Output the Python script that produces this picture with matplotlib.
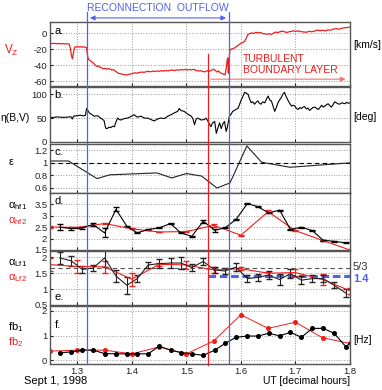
import matplotlib.pyplot as plt
from matplotlib.lines import Line2D
from matplotlib.patches import FancyArrowPatch
from matplotlib.transforms import blended_transform_factory

plt.rcParams['font.family'] = ['Liberation Sans', 'DejaVu Sans']

RED = '#f21c1c'
BLUE = '#4f62ee'

# panel a: Vz [km/s]  (time, value)
vz = [(1.250, -12.5), (1.254, -13.0), (1.258, -12.6), (1.262, -13.1), (1.266, -12.9), (1.270, -13.3),
      (1.274, -13.0), (1.278, -13.4), (1.282, -13.1), (1.285, -13.6), (1.287, -18), (1.289, -27),
      (1.291, -32), (1.293, -24), (1.295, -17.5), (1.298, -16.8), (1.302, -17.2), (1.306, -16.9),
      (1.310, -17.4), (1.314, -17.1), (1.317, -18.0), (1.319, -29), (1.321, -33), (1.324, -34.5),
      (1.327, -36), (1.330, -37.5), (1.333, -40), (1.336, -41.5), (1.339, -41), (1.342, -42.5),
      (1.345, -43.5), (1.348, -44.5), (1.351, -44), (1.354, -45), (1.357, -44.2), (1.360, -44.8),
      (1.363, -46), (1.366, -45.5), (1.369, -47), (1.372, -48.5), (1.375, -50), (1.378, -50.5),
      (1.382, -51.2), (1.386, -51.8), (1.390, -52.2), (1.394, -51.5), (1.398, -50.8), (1.402, -50.2),
      (1.406, -49.6), (1.410, -49.9), (1.414, -49.0), (1.418, -48.6), (1.422, -48.9), (1.426, -48.2),
      (1.430, -47.6), (1.434, -48.3), (1.438, -47.4), (1.442, -47.9), (1.446, -47.2), (1.450, -47.6),
      (1.454, -46.9), (1.458, -47.4), (1.462, -46.6), (1.466, -47.1), (1.470, -46.4), (1.474, -46.0),
      (1.478, -46.7), (1.482, -45.8), (1.486, -46.3), (1.490, -45.4), (1.494, -45.9), (1.498, -45.2),
      (1.502, -46.0), (1.506, -45.3), (1.510, -45.8), (1.514, -45.2), (1.518, -46.5), (1.522, -47.2),
      (1.526, -46.8), (1.530, -47.9), (1.534, -48.3), (1.538, -46.9), (1.542, -47.8), (1.546, -46.2),
      (1.550, -45.0), (1.553, -46.5), (1.556, -48.5), (1.559, -47.2), (1.562, -49.5), (1.565, -50.3),
      (1.568, -51.2), (1.571, -52.0), (1.573, -44), (1.575, -33), (1.576, -31), (1.577, -50),
      (1.578, -35), (1.580, -20.5), (1.583, -19.8), (1.586, -19.0), (1.589, -18.2), (1.592, -16.5),
      (1.595, -15.2), (1.598, -13.8), (1.601, -12.0), (1.604, -11.5), (1.607, -10.0), (1.610, -6),
      (1.613, -1.5), (1.616, -0.5), (1.620, 0.5), (1.624, -0.3), (1.628, 1.2), (1.632, 0.4),
      (1.636, 1.0), (1.640, -0.5), (1.644, -0.8), (1.648, -1.2), (1.652, -0.6), (1.656, -1.5),
      (1.660, 0.3), (1.664, 1.5), (1.668, 0.8), (1.672, 2.0), (1.676, 2.6), (1.680, 1.8),
      (1.684, 1.0), (1.688, 1.7), (1.692, 2.4), (1.696, 3.0), (1.700, 2.2), (1.705, 2.9),
      (1.710, 2.0), (1.715, 1.6), (1.720, 1.2), (1.725, 2.4), (1.730, 1.8), (1.735, 2.6),
      (1.740, 4.0), (1.745, 3.2), (1.750, 3.6), (1.755, 3.0), (1.760, 4.2), (1.765, 3.8),
      (1.770, 5.3), (1.775, 5.8), (1.780, 5.0), (1.785, 6.3), (1.790, 6.8), (1.795, 7.2), (1.800, 7.6)]

# panel b: eta(B,V) [deg]
eta = [(1.250, 52), (1.256, 51), (1.262, 52.5), (1.269, 52), (1.275, 51.5), (1.282, 52), (1.288, 53),
       (1.291, 48), (1.293, 54), (1.300, 55), (1.306, 56), (1.311, 54.5), (1.315, 56), (1.317, 70),
       (1.322, 61), (1.326, 58), (1.331, 54), (1.337, 55), (1.343, 50), (1.349, 45), (1.352, 29),
       (1.355, 28), (1.358, 31), (1.361, 30), (1.365, 33), (1.368, 32), (1.371, 42), (1.374, 50),
       (1.377, 47), (1.380, 46), (1.386, 49), (1.392, 50), (1.398, 53), (1.404, 57), (1.410, 52),
       (1.417, 54), (1.423, 50), (1.429, 50), (1.435, 47), (1.441, 44), (1.447, 48), (1.453, 50),
       (1.460, 49), (1.466, 54), (1.472, 57), (1.478, 61), (1.484, 64), (1.487, 70), (1.490, 66),
       (1.496, 64), (1.503, 58), (1.509, 54), (1.512, 49), (1.515, 36), (1.518, 48), (1.521, 50),
       (1.527, 46), (1.533, 47), (1.536, 50), (1.539, 45), (1.542, 38), (1.545, 32), (1.548, 40),
       (1.552, 43), (1.555, 18), (1.558, 30), (1.561, 40), (1.564, 28), (1.567, 38), (1.570, 43),
       (1.573, 22), (1.575, 30), (1.576, 36), (1.579, 54), (1.582, 58), (1.585, 64), (1.591, 68),
       (1.595, 71), (1.598, 80), (1.601, 89), (1.604, 96), (1.607, 104), (1.610, 102), (1.613, 100),
       (1.616, 90), (1.619, 82), (1.622, 84), (1.625, 79), (1.628, 83), (1.631, 86), (1.634, 81),
       (1.637, 79), (1.640, 84), (1.644, 82), (1.647, 90), (1.650, 96), (1.653, 88), (1.656, 86),
       (1.659, 75), (1.662, 64), (1.665, 72), (1.668, 82), (1.671, 88), (1.674, 93), (1.677, 100),
       (1.680, 104), (1.683, 95), (1.687, 86), (1.690, 80), (1.693, 75), (1.696, 77), (1.699, 75),
       (1.702, 70), (1.705, 68), (1.708, 72), (1.711, 70), (1.714, 73), (1.717, 74), (1.720, 69),
       (1.723, 71), (1.726, 66), (1.729, 69), (1.732, 72), (1.736, 73), (1.739, 70), (1.742, 68),
       (1.745, 72), (1.748, 77), (1.751, 73), (1.754, 75), (1.757, 78), (1.760, 80), (1.763, 76),
       (1.766, 73), (1.769, 78), (1.772, 84), (1.775, 82), (1.778, 80), (1.781, 79), (1.785, 82),
       (1.788, 81), (1.791, 80), (1.794, 83), (1.797, 81), (1.800, 82)]

# panel c: epsilon
eps_t = [1.25, 1.284, 1.336, 1.36, 1.446, 1.473, 1.50, 1.528, 1.556, 1.58, 1.611, 1.638, 1.69, 1.80]
eps_v = [1.03, 1.03, 0.75, 0.81, 0.84, 0.76, 0.83, 0.79, 0.60, 0.68, 1.27, 1.01, 0.93, 1.00]

# black series (f1) times, red series (f2) times
t1 = [1.268, 1.289, 1.309, 1.329, 1.350, 1.371, 1.391, 1.410, 1.430, 1.450, 1.471, 1.490, 1.510, 1.531,
      1.552, 1.571, 1.591, 1.612, 1.631, 1.651, 1.671, 1.691, 1.711, 1.731, 1.751, 1.771, 1.793]
t2 = [1.25, 1.30, 1.35, 1.40, 1.45, 1.50, 1.55, 1.60, 1.65, 1.70, 1.75, 1.80]

# panel d: alpha_hf
ahf1 = [2.50, 2.44, 2.47, 2.62, 2.25, 3.28, 2.54, 2.25, 2.40, 2.47, 2.66, 2.25, 2.10, 2.76,
        2.37, 2.47, 2.84, 3.54, 3.40, 3.13, 3.25, 2.40, 2.50, 2.35, 1.93, 1.88, 1.81]
ahf1_err = [0.12, 0.05, 0.03, 0.06, 0.2, 0.09, 0.02, 0.02, 0.02, 0.02, 0.02, 0.02, 0.03, 0.07,
            0.06, 0.02, 0.03, 0.02, 0.02, 0.02, 0.02, 0.02, 0.02, 0.02, 0.02, 0.02, 0.02]
ahf2 = [2.51, 2.49, 2.66, 2.43, 2.29, 2.31, 2.58, 2.15, 3.18, 2.35, 1.92, 1.50]
ahf2_err = [0.03, 0.02, 0.02, 0.02, 0.02, 0.02, 0.05, 0.02, 0.06, 0.02, 0.02, 0.02]

# panel e: alpha_Lf
alf1 = [1.98, 1.89, 1.62, 1.66, 1.98, 1.41, 1.12, 1.33, 1.76, 1.80, 1.82, 1.82, 1.68, 1.87,
        1.60, 1.57, 1.69, 1.33, 1.37, 1.44, 1.30, 1.49, 1.28, 1.33, 1.33, 1.12, 0.87]
alf1_err = [0.19, 0.16, 0.10, 0.10, 0.27, 0.20, 0.27, 0.10, 0.10, 0.15, 0.17, 0.20, 0.12, 0.10,
            0.10, 0.10, 0.12, 0.12, 0.10, 0.12, 0.18, 0.15, 0.12, 0.10, 0.10, 0.10, 0.12]
alf2 = [1.77, 1.71, 1.70, 1.31, 1.78, 1.76, 1.60, 1.64, 1.50, 1.52, 1.30, 0.95]
alf2_err = [0.2, 0.2, 0.18, 0.2, 0.05, 0.12, 0.08, 0.05, 0.05, 0.1, 0.18, 0.1]

# panel f: break frequencies [Hz]
fb1_t = t1 + [1.81]
fb1 = [0.30, 0.34, 0.41, 0.41, 0.27, 0.26, 0.26, 0.26, 0.26, 0.57, 0.41, 0.31, 0.26, 0.20,
       0.41, 0.68, 0.93, 0.98, 0.98, 1.09, 0.99, 1.13, 0.93, 1.29, 1.29, 1.09, 0.54, 0.95]
fb2 = [0.37, 0.41, 0.41, 0.26, 0.54, 0.26, 0.78, 1.84, 1.29, 1.54, 0.91, 0.68]

t_blue = [1.318, 1.578]
t_red = 1.54

fig = plt.figure(figsize=(3.82, 3.9), dpi=100)
L, W = 0.131, 0.785
boxes = [(0.7795, 0.164), (0.6359, 0.141), (0.5051, 0.1256), (0.359, 0.146), (0.218, 0.1385), (0.0667, 0.149)]
axs = [fig.add_axes([L, b, W, h]) for b, h in boxes]
ylims = [(-66, 14), (0, 115), (0.52, 1.3), (1.5, 4.0), (0.5, 2.2), (-0.15, 2.2)]
yticks = [[-60, -40, -20, 0], [0, 50, 100], [0.6, 0.8, 1, 1.2], [1.5, 2, 2.5, 3, 3.5], [0.5, 1, 1.5, 2], [0, 1, 2]]
for ax, yl, yt in zip(axs, ylims, yticks):
    ax.set_xlim(1.25, 1.8)
    ax.set_ylim(*yl)
    ax.set_xticks([1.3, 1.4, 1.5, 1.6, 1.7, 1.8])
    ax.set_yticks(yt)
    ax.set_yticklabels([('%g' % v) for v in yt])
    ax.grid(True, ls=':', color='#9a9a9a', lw=0.7)
    ax.tick_params(direction='in', length=2.5, labelsize=6.8, pad=2, colors='#222222')
    for s in ax.spines.values():
        s.set_color('#555555')
        s.set_linewidth(1.0)
    if ax is not axs[-1]:
        ax.set_xticklabels([])

# a
axs[0].plot(*zip(*vz), color=RED, lw=0.9)
# b
axs[1].plot(*zip(*eta), color='black', lw=0.8)
# c
axs[2].axhline(1.0, color='black', ls='--', lw=0.8, dashes=(4, 3))
axs[2].plot(eps_t, eps_v, color='#222222', lw=0.8)
# d
axs[3].errorbar(t2, ahf2, yerr=ahf2_err, color=RED, lw=0.8, capsize=2, elinewidth=0.8)
axs[3].errorbar(t1, ahf1, yerr=ahf1_err, color='black', lw=0.8, capsize=2, elinewidth=0.8)
# e
axs[4].axhline(5 / 3, color='#555555', ls='--', lw=0.8, dashes=(4, 3))
axs[4].plot([t_red, 1.8], [1.4, 1.4], color=BLUE, ls='--', lw=2.2, dashes=(2.5, 1.2))
axs[4].errorbar(t2, alf2, yerr=alf2_err, color=RED, lw=0.8, capsize=2, elinewidth=0.8)
axs[4].errorbar(t1, alf1, yerr=alf1_err, color='#222222', lw=0.8, capsize=2, elinewidth=0.8)
# f
axs[5].plot(t2, fb2, color=RED, lw=0.7, marker='o', ms=2.6, mec=RED)
axs[5].plot(fb1_t, fb1, color='black', lw=0.8, marker='o', ms=2.6)

for ax, lab in zip(axs, ['a.', 'b.', 'c.', 'd.', None, 'f.']):
    if lab:
        ax.text(0.015, 0.94 if lab != 'f.' else 0.75, lab, transform=ax.transAxes,
                va='top', ha='left', fontsize=8)
axs[4].text(0.015, 0.06, 'e.', transform=axs[4].transAxes, va='bottom', ha='left', fontsize=8)

# vertical markers across panels
tr = blended_transform_factory(axs[-1].transData, fig.transFigure)
for tb in t_blue:
    fig.add_artist(Line2D([tb, tb], [0.969, 0.0667], transform=tr, color=BLUE, lw=0.9))
fig.add_artist(Line2D([t_red, t_red], [0.8615, 0.064], transform=tr, color=RED, lw=0.9))

fig.add_artist(FancyArrowPatch((t_blue[0], 0.954), (t_blue[1], 0.954), transform=tr,
                               arrowstyle='<|-|>', mutation_scale=7, color=BLUE, lw=0.8))
fig.text(sum(t_blue) / 2, 0.979, 'RECONNECTION  OUTFLOW', transform=tr, ha='center', va='center',
         color=BLUE, fontsize=7.5)
fig.add_artist(FancyArrowPatch((t_red, 0.797), (1.797, 0.797), transform=tr,
                               arrowstyle='-|>', mutation_scale=7, color='#f07272', lw=0.8))
fig.text(1.604, 0.834, 'TURBULENT\nBOUNDARY LAYER', transform=tr, ha='left', va='center',
         color=RED, fontsize=7.5, linespacing=1.1)


def px(x, y, s, **kw):
    fig.text(x / 382, 1 - y / 390, s, **kw)


px(11, 50, r'V$_\mathregular{Z}$', color=RED, fontsize=8.5, ha='center', va='center')
px(15, 118, 'η(B,V)', fontsize=7.5, ha='center', va='center')
px(11, 162, 'ε', fontsize=8, ha='center', va='center')
px(8, 206, r'α$_\mathregular{hf1}$', fontsize=8, ha='left', va='center')
px(8, 221, r'α$_\mathregular{hf2}$', fontsize=8, ha='left', va='center', color=RED)
px(8, 263, r'α$_\mathregular{Lf1}$', fontsize=8, ha='left', va='center')
px(8, 278, r'α$_\mathregular{Lf2}$', fontsize=8, ha='left', va='center', color=RED)
px(8, 327, r'fb$_\mathregular{1}$', fontsize=8, ha='left', va='center')
px(8, 342, r'fb$_\mathregular{2}$', fontsize=8, ha='left', va='center', color=RED)

px(353, 45, '[km/s]', fontsize=7.5, ha='left', va='center')
px(353, 117, '[deg]', fontsize=7.5, ha='left', va='center')
px(353, 340, '[Hz]', fontsize=7.5, ha='left', va='center')
px(353, 267, '5/3', fontsize=8, ha='left', va='center', color='#333333')
px(353, 279, '1.4', fontsize=8, ha='left', va='center', color=BLUE, fontweight='bold')

px(24, 381, 'Sept 1, 1998', fontsize=8, ha='left', va='center')
px(350, 381, 'UT [decimal hours]', fontsize=7.5, ha='right', va='center')

fig.savefig('out.png', dpi=100)
